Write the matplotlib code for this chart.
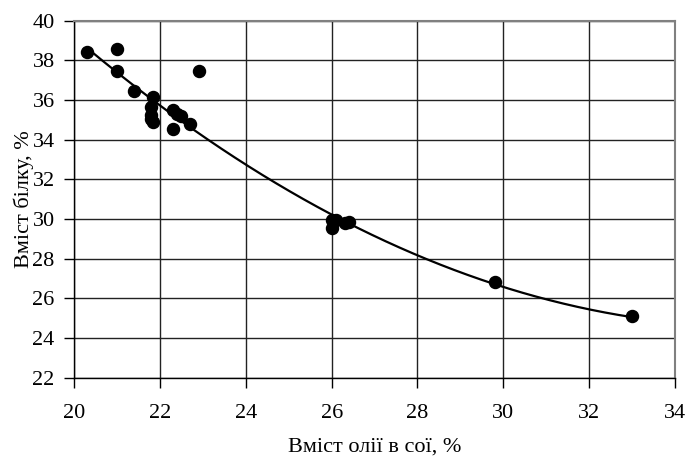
# Protein vs oil content in soybean, scatter with quadratic trend line

import numpy as np
import matplotlib.pyplot as plt

plt.rcParams['font.family'] = ['Liberation Serif', 'DejaVu Serif']

# Data
oil = [20.3, 21.0, 21.0, 21.4, 21.85, 21.8, 21.8, 21.8, 21.85,
       22.3, 22.4, 22.5, 22.3, 22.7, 22.9,
       26.0, 26.0, 26.1, 26.3, 26.4, 29.8, 33.0]
protein = [38.4, 38.55, 37.45, 36.45, 36.15, 35.65, 35.25, 35.05, 34.9,
           35.5, 35.3, 35.2, 34.55, 34.8, 37.45,
           29.95, 29.55, 29.95, 29.8, 29.85, 26.85, 25.12]

x_ticks = np.arange(20, 35, 2)
y_ticks = np.arange(22, 41, 2)

fig = plt.figure(figsize=(6.86, 4.58), dpi=100)
ax = fig.add_axes([0.108, 0.175, 0.876, 0.78])

# trend line (2nd order polynomial)
coef = np.polyfit(oil, protein, 2)
xs = np.linspace(min(oil), max(oil), 200)
ax.plot(xs, np.polyval(coef, xs), color='black', lw=1.6, zorder=2)

ax.scatter(oil, protein, s=75, color='black', zorder=3)

ax.set_xlim(20, 34)
ax.set_ylim(22, 40)
ax.set_xticks(x_ticks)
ax.set_yticks(y_ticks)
ax.grid(True, color='#222222', lw=1.0)
ax.set_axisbelow(True)

for side in ['top', 'right']:
    ax.spines[side].set_color('#808080')
    ax.spines[side].set_linewidth(1.5)
for side in ['left', 'bottom']:
    ax.spines[side].set_color('black')
    ax.spines[side].set_linewidth(1.0)

ax.tick_params(direction='out', length=7, width=1, labelsize=16, pad=7)
ax.tick_params(axis='x', pad=12)
ax.set_xlabel('Вміст олії в сої, %', fontsize=16, labelpad=10)
ax.set_ylabel('Вміст білку, %', fontsize=16, labelpad=-1)

plt.savefig('out.png', dpi=100)
